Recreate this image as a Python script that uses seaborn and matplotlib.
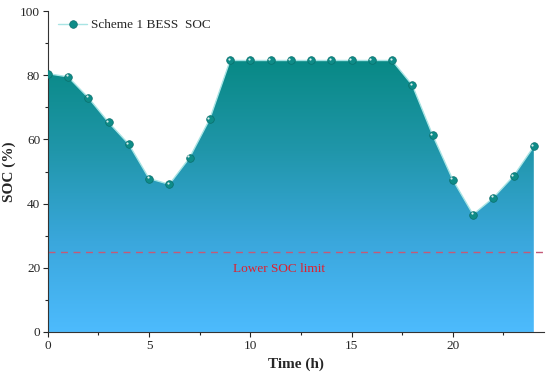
import matplotlib
matplotlib.use("Agg")
import matplotlib.pyplot as plt
import matplotlib.transforms as mtransforms
from matplotlib.colors import LinearSegmentedColormap
from matplotlib.ticker import MultipleLocator
import numpy as np
import pandas as pd
import seaborn as sns

hours = list(range(25))
soc = [80.5, 79.5, 73.0, 65.3, 58.5, 47.8, 46.0, 54.3, 66.4,
       84.6, 84.6, 84.6, 84.6, 84.6, 84.6, 84.6, 84.6, 84.6,
       76.9, 61.4, 47.4, 36.6, 41.8, 48.6, 57.8]
series_label = "Scheme 1 BESS  SOC"
soc_limit = 25
limit_label = "Lower SOC limit"

sns.set_theme(style="ticks")
plt.rcParams["font.family"] = ["Liberation Serif", "DejaVu Serif"]

df = pd.DataFrame({"hour": hours, "soc": soc})

fig = plt.figure(figsize=(5.5, 3.82), dpi=100)
ax = fig.add_axes([0.087, 0.131, 0.902, 0.84])

# gradient fill under the curve
cmap = LinearSegmentedColormap.from_list(
    "soc", ["#4dbbfd", "#3aa7dc", "#2096aa", "#088985"])
poly = ax.fill_between(df["hour"], df["soc"], 0, color="none", lw=0)
grad = np.linspace(0, 1, 256).reshape(-1, 1)
img = ax.imshow(grad, cmap=cmap, origin="lower", aspect="auto",
                extent=[0, 24, 0, max(soc)], zorder=1)
img.set_clip_path(poly.get_paths()[0], transform=ax.transData)

sns.lineplot(data=df, x="hour", y="soc", ax=ax, color="#a8e4e4", lw=1.0,
             marker="o", markersize=5.5, markerfacecolor="#0e8c88",
             markeredgecolor="#0a6f6c", markeredgewidth=0.5,
             label=series_label, zorder=3)
# small highlight on each marker
off = mtransforms.ScaledTranslation(-1.0 / 72, 1.0 / 72, fig.dpi_scale_trans)
ax.scatter(df["hour"], df["soc"], s=2.5, color="white", alpha=0.85,
           transform=ax.transData + off, zorder=4, lw=0)

ax.axhline(soc_limit, color="#c45a78", ls=(0, (5, 4)), lw=1.0, zorder=2)
ax.text(11.4, 19.6, limit_label, color="#e0202e", fontsize=9.5,
        ha="center", va="center", zorder=3)

ax.set_xlim(0, 24.5)
ax.set_ylim(0, 100)
ax.xaxis.set_major_locator(MultipleLocator(5))
ax.xaxis.set_minor_locator(MultipleLocator(2.5))
ax.yaxis.set_major_locator(MultipleLocator(20))
ax.yaxis.set_minor_locator(MultipleLocator(10))
ax.tick_params(which="major", length=3.5, width=0.8, labelsize=9.5, pad=2)
ax.tick_params(which="minor", length=2, width=0.8)
sns.despine(ax=ax)
for s in ["left", "bottom"]:
    ax.spines[s].set_color("#333333")
    ax.spines[s].set_linewidth(0.8)

ax.set_xlabel("Time (h)", fontsize=11, fontweight="bold", labelpad=4)
ax.set_ylabel("SOC (%)", fontsize=11, fontweight="bold", labelpad=3)

leg = ax.legend(loc="upper left", frameon=False, fontsize=9.5,
                handlelength=2.2, handletextpad=0.3,
                borderaxespad=0.2, bbox_to_anchor=(0.005, 1.0))

fig.savefig("out.png", dpi=100)
